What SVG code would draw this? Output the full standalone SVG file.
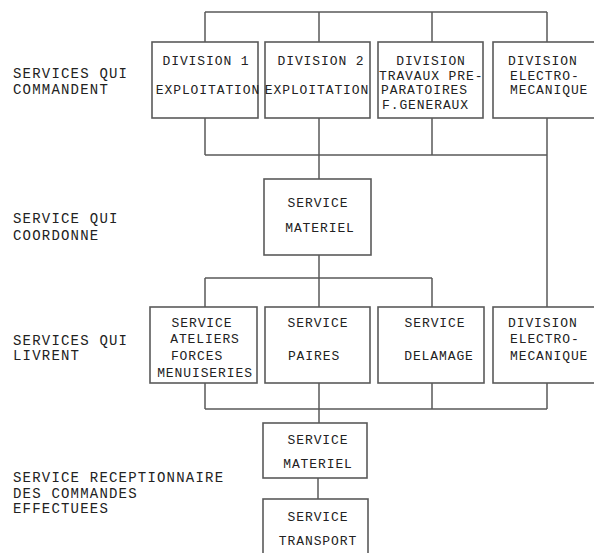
<svg xmlns="http://www.w3.org/2000/svg" width="594" height="553" viewBox="0 0 594 553">
<style>
.bg{fill:#ffffff}
.box{fill:#ffffff;stroke:#5a5a5a;stroke-width:1.6}
.ln{fill:none;stroke:#5a5a5a;stroke-width:1.5}
text{font-family:"Liberation Mono","Courier New",monospace;fill:#222222}
.t{font-size:13px;letter-spacing:0.9px;text-anchor:middle}
.s{font-size:13px;letter-spacing:0.9px;text-anchor:start}
.lbl{font-size:14px;letter-spacing:1.2px}
</style>
<rect class="bg" x="0" y="0" width="594" height="553"/>
<g id="connectors">
<path class="ln" d="M205,12 H547 M205,12 V42 M319,12 V42 M432,12 V42 M547,12 V42"/>
<path class="ln" d="M205,118 V155 M319,118 V179 M432,118 V155 M547,118 V307 M205,155 H547"/>
<path class="ln" d="M319,255 V307 M205,278 H432 M205,278 V307 M432,278 V307"/>
<path class="ln" d="M205,383 V409 M319,383 V423 M432,383 V409 M547,383 V409 M205,409 H547"/>
<path class="ln" d="M318,478 V499"/>
</g>
<g id="labels">
<text class="lbl" x="13" y="78">SERVICES QUI</text>
<text class="lbl" x="13" y="94">COMMANDENT</text>
<text class="lbl" x="13" y="223">SERVICE QUI</text>
<text class="lbl" x="13" y="240">COORDONNE</text>
<text class="lbl" x="13" y="345">SERVICES QUI</text>
<text class="lbl" x="13" y="360">LIVRENT</text>
<text class="lbl" x="13" y="482">SERVICE RECEPTIONNAIRE</text>
<text class="lbl" x="13" y="498">DES COMMANDES</text>
<text class="lbl" x="13" y="513">EFFECTUEES</text>
</g>
<g id="div1">
<rect class="box" x="152" y="42" width="106" height="76"/>
<text class="t" x="206" y="65">DIVISION 1</text>
<text class="t" x="208" y="94">EXPLOITATION</text>
</g>
<g id="div2">
<rect class="box" x="265" y="42" width="105" height="76"/>
<text class="t" x="321" y="65">DIVISION 2</text>
<text class="t" x="317" y="94">EXPLOITATION</text>
</g>
<g id="div3">
<rect class="box" x="378" y="42" width="105" height="76"/>
<text class="t" x="431" y="65">DIVISION</text>
<text class="s" x="379" y="80">TRAVAUX PRE-</text>
<text class="s" x="381" y="94">PARATOIRES</text>
<text class="s" x="382" y="109">F.GENERAUX</text>
</g>
<g id="div4">
<rect class="box" x="493" y="42" width="110" height="76"/>
<text class="s" x="508" y="65">DIVISION</text>
<text class="s" x="510" y="80">ELECTRO-</text>
<text class="s" x="510" y="94">MECANIQUE</text>
</g>
<g id="materiel1">
<rect class="box" x="264" y="179" width="107" height="76"/>
<text class="t" x="318" y="207">SERVICE</text>
<text class="t" x="320" y="232">MATERIEL</text>
</g>
<g id="ateliers">
<rect class="box" x="150" y="307" width="107" height="76"/>
<text class="t" x="202" y="327">SERVICE</text>
<text class="t" x="205" y="343">ATELIERS</text>
<text class="t" x="197" y="360">FORCES</text>
<text class="t" x="205" y="377">MENUISERIES</text>
</g>
<g id="paires">
<rect class="box" x="265" y="307" width="105" height="76"/>
<text class="t" x="318" y="327">SERVICE</text>
<text class="t" x="314" y="360">PAIRES</text>
</g>
<g id="delamage">
<rect class="box" x="378" y="307" width="106" height="76"/>
<text class="t" x="435" y="327">SERVICE</text>
<text class="t" x="439" y="360">DELAMAGE</text>
</g>
<g id="div4b">
<rect class="box" x="493" y="307" width="110" height="76"/>
<text class="s" x="508" y="327">DIVISION</text>
<text class="s" x="510" y="343">ELECTRO-</text>
<text class="s" x="510" y="360">MECANIQUE</text>
</g>
<g id="materiel2">
<rect class="box" x="263" y="423" width="104" height="55"/>
<text class="t" x="318" y="444">SERVICE</text>
<text class="t" x="318" y="468">MATERIEL</text>
</g>
<g id="transport">
<rect class="box" x="263" y="499" width="105" height="64"/>
<text class="t" x="318" y="521">SERVICE</text>
<text class="t" x="318" y="545">TRANSPORT</text>
</g>
</svg>
